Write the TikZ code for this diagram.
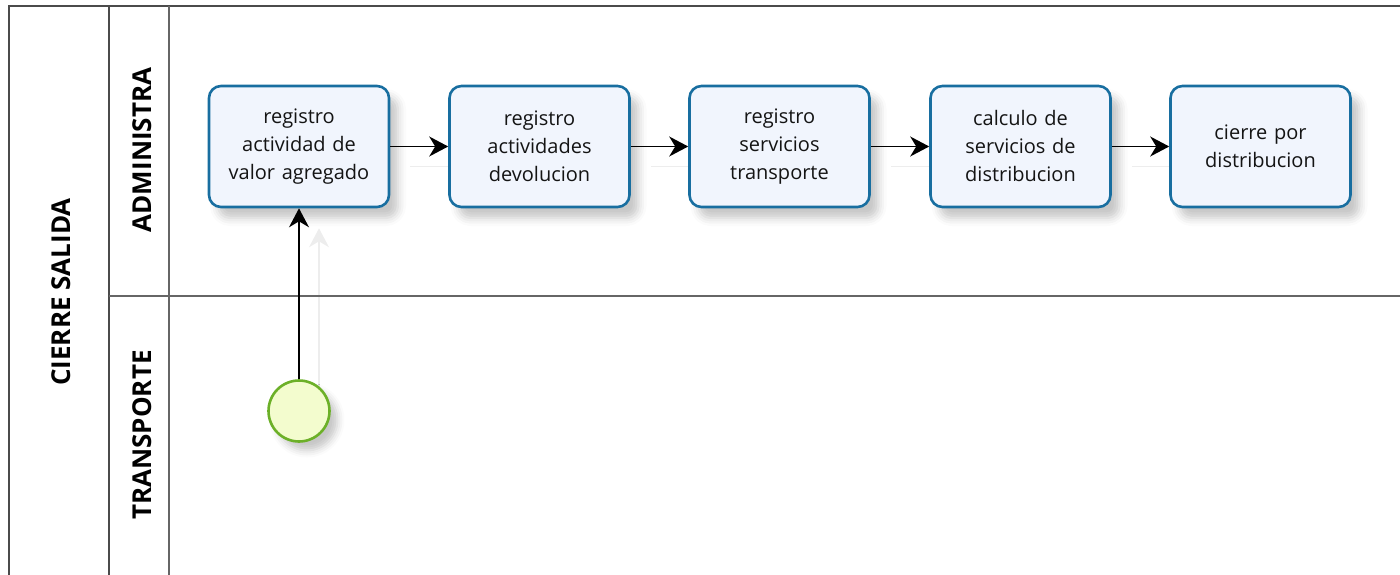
\documentclass[tikz,border=0pt]{standalone}
\usepackage{fontspec}
\setmainfont{Open Sans}
\usetikzlibrary{arrows.meta,shadows.blur,backgrounds}
\definecolor{taskblue}{RGB}{24,110,160}
\definecolor{taskfill}{RGB}{241,245,253}
\definecolor{startgreen}{RGB}{108,176,40}
\definecolor{startfill}{RGB}{243,252,206}
\definecolor{laneline}{RGB}{75,75,75}
\definecolor{txt}{RGB}{20,20,20}
\begin{document}
\begin{tikzpicture}[x=1pt,y=-1pt,
  task/.style={rectangle, rounded corners=12pt, draw=taskblue, line width=2.6pt,
    fill=taskfill, minimum width=180pt, minimum height=121pt, inner sep=0pt,
    text width=174pt, align=center, text=txt,
    font=\fontsize{20}{28}\selectfont,
    blur shadow={shadow xshift=9pt, shadow yshift=-11pt, shadow blur radius=8pt, shadow opacity=22}},
  startev/.style={circle, draw=startgreen, line width=2.6pt, fill=startfill,
    minimum size=61pt, inner sep=0pt,
    blur shadow={shadow xshift=8pt, shadow yshift=-9pt, shadow blur radius=7pt, shadow opacity=22}},
  flow/.style={line width=1.8pt, black, -{Stealth[length=19pt,width=20pt,inset=6pt]}},
  flowshadow/.style={line width=1.5pt, black!7, -{Stealth[length=19pt,width=20pt,inset=6pt]}},
  laneborder/.style={line width=2pt, draw=laneline},
  lanelabel/.style={font=\bfseries\fontsize{26}{28}\selectfont, text=black, inner sep=0pt},
]
\useasboundingbox (0,0) rectangle (1400,575);
% pool and lanes
\draw[laneborder] (1400,6) -- (9,6) -- (9,575);
\draw[laneborder] (109,6) -- (109,575);
\draw[laneborder, draw=laneline!85] (169,6) -- (169,575);
\draw[laneborder, draw=laneline!85] (109,296) -- (1400,296);
\node[lanelabel, rotate=90] (pool) at (61,292) {CIERRE SALIDA};
\node[lanelabel, rotate=90] (admin) at (142,150) {ADMINISTRA};
\node[lanelabel, rotate=90] (transp) at (142,435) {TRANSPORTE};
% nodes
\node[task] (t1) at (299,146.5) {registro\\actividad de\\valor agregado};
\node[task] (t2) at (539.5,146.5) {registro\\actividades\\devolucion};
\node[task] (t3) at (779.5,146.5) {registro\\servicios\\transporte};
\node[task] (t4) at (1020.5,146.5) {calculo de\\servicios de\\distribucion};
\node[task] (t5) at (1260.5,146.5) {cierre por\\distribucion};
\node[startev] (s) at (299,411) {};
% connector shadows (behind everything)
\begin{pgfonlayer}{background}
\begin{scope}[transform canvas={xshift=20pt,yshift=-20pt}]
  \draw[flowshadow] (s) -- (t1);
  \draw[flowshadow, -] (t1) -- (t2);
  \draw[flowshadow, -] (t2) -- (t3);
  \draw[flowshadow, -] (t3) -- (t4);
  \draw[flowshadow, -] (t4) -- (t5);
\end{scope}
\end{pgfonlayer}
% connectors
\draw[flow] (s) -- (t1);
\draw[flow] (t1) -- (t2);
\draw[flow] (t2) -- (t3);
\draw[flow] (t3) -- (t4);
\draw[flow] (t4) -- (t5);
\end{tikzpicture}
\end{document}
